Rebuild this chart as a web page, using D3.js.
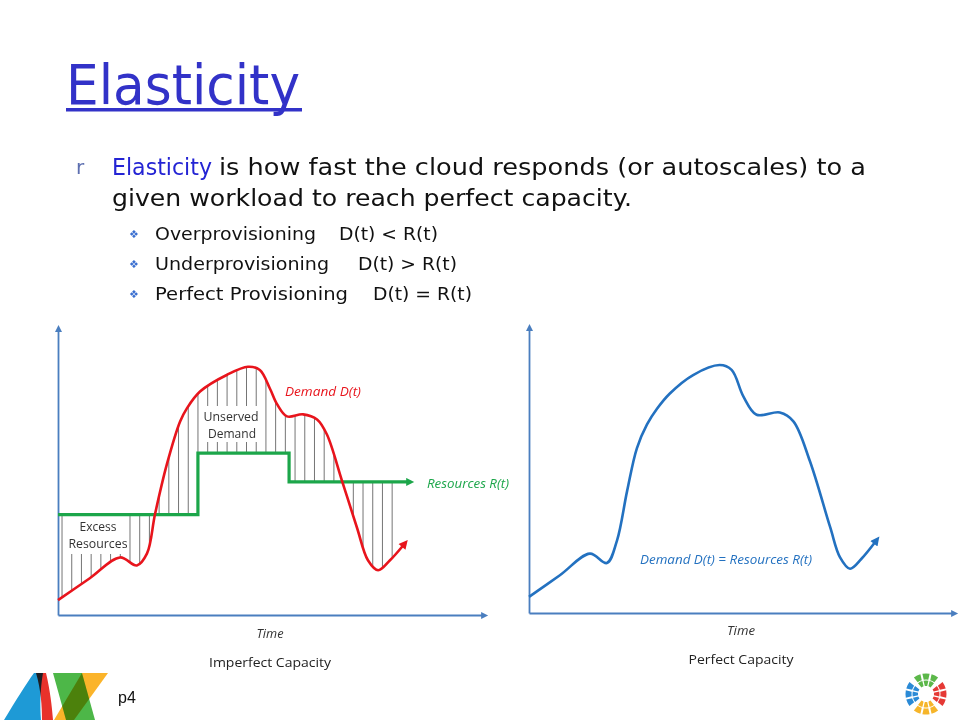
<!DOCTYPE html>
<html>
<head>
<meta charset="utf-8">
<script src="https://cdn.jsdelivr.net/npm/d3@7"></script>
<style>
  body { margin: 0; background: #fff; }
  svg { display: block; }
</style>
</head>
<body>
<div id="slide"></div>
<script>
// left panel, imperfect capacity: demand D(t), time and demand in 0..100 units
const leftTime   = [0, 7.5, 14.6, 18.6, 21, 22.9, 25.7, 28.8, 30.4, 33.5, 39.9, 44.8, 47.6, 50, 51.7, 54, 57.8, 61.1, 63.4, 67, 70.5, 73.1, 75.5, 78.3, 81.4];
const leftDemand = [5.2, 12.9, 20.2, 17.4, 21.6, 35.5, 53, 67.9, 72.5, 78.4, 84.3, 87.1, 86, 79.4, 73.9, 69.7, 70.4, 68.6, 63.4, 47, 30.7, 19.2, 15.7, 19.2, 24.4];
// resources R(t), a step line: the times it changes and its levels
const resTime  = [0, 33, 54.5, 82.5];
const resLevel = [35.2, 56.8, 46.7, 46.7];

// right panel, perfect capacity: D(t) = R(t)
const rightTime   = [0, 7.3, 14.4, 18.4, 20.8, 23.2, 25.5, 27.9, 30.3, 33.3, 38.8, 45.1, 47.9, 50.7, 53.8, 59.3, 62.5, 66.4, 71.2, 73.5, 75.9, 78.6, 81.8];
const rightDemand = [5.7, 13.3, 20.9, 17.6, 25.5, 43, 58, 66.4, 72, 77.3, 83.8, 87.3, 85.6, 76.2, 69.8, 70.6, 67.5, 53.5, 30.2, 19.7, 15.6, 19.1, 24.9];

// slide texts
const provNames = ["Overprovisioning", "Underprovisioning", "Perfect Provisioning"];
const provRels  = ["D(t) < R(t)", "D(t) > R(t)", "D(t) = R(t)"];

const W = 960, H = 720;
const blue = "#3232c8", axisCol = "#4a7ebf";
const red = "#e8141c", green = "#1ca64a", curveBlue = "#2371c0";
const slideFont = "'DejaVu Sans', sans-serif";
const chartFont = "'Open Sans', 'Liberation Sans', sans-serif";

const svg = d3.select("#slide").append("svg")
    .attr("width", W).attr("height", H)
    .attr("viewBox", [0, 0, W, H]);

svg.append("rect").attr("width", W).attr("height", H).attr("fill", "#fff");

const defs = svg.append("defs");
function arrow(id, col, len, wid) {
  defs.append("marker")
      .attr("id", id)
      .attr("markerUnits", "userSpaceOnUse")
      .attr("viewBox", "0 0 10 10")
      .attr("refX", 2).attr("refY", 5)
      .attr("markerWidth", len).attr("markerHeight", wid)
      .attr("orient", "auto")
    .append("path")
      .attr("d", "M0,0L10,5L0,10Z")
      .attr("fill", col);
}
arrow("arAxis", axisCol, 9, 7);
arrow("arRed", red, 10, 9);
arrow("arGreen", green, 10, 8);
arrow("arBlue", curveBlue, 10, 9);

// ---- title + bullets
function txt(x, y, s, size, col, len) {
  const t = svg.append("text")
      .attr("x", x).attr("y", y)
      .attr("font-family", slideFont)
      .attr("font-size", size)
      .attr("fill", col)
      .text(s);
  if (len) t.attr("textLength", len).attr("lengthAdjust", "spacingAndGlyphs");
  return t;
}

txt(66, 104, "Elasticity", 55, blue, 234);
svg.append("rect").attr("x", 66).attr("y", 108).attr("width", 236).attr("height", 3.5).attr("fill", blue);

txt(76, 174, "r", 20, "#5d6fb0");
txt(112, 175, "Elasticity", 23, "#2424d4", 100);
txt(219, 175, "is how fast the cloud responds (or autoscales) to a", 23, "#111", 647);
txt(112, 206, "given workload to reach perfect capacity.", 23, "#111", 520);

const subY = [240, 270, 300];
const subNameEnd = [316, 329, 348];
const relX = [339, 358, 373];
const relEnd = [438, 457, 472];
provNames.forEach((n, i) => {
  txt(129, subY[i] - 2, "\u2756", 11, "#3a6fd0");
  txt(155, subY[i], n, 18.5, "#111", subNameEnd[i] - 155);
  txt(relX[i], subY[i], provRels[i], 18.5, "#111", relEnd[i] - relX[i]);
});

// ---- panels
function panel(x0, x1, yb, yt) {
  const x = d3.scaleLinear().domain([0, 100]).range([x0, x1]);
  const y = d3.scaleLinear().domain([0, 100]).range([yb, yt]);
  const g = svg.append("g");
  return { x, y, g };
}

function axes(p) {
  const ax = p.g.append("g")
      .attr("transform", `translate(0,${p.y(0)})`)
      .call(d3.axisBottom(p.x).tickValues([]).tickSizeOuter(0));
  const ay = p.g.append("g")
      .attr("transform", `translate(${p.x(0)},0)`)
      .call(d3.axisLeft(p.y).tickValues([]).tickSizeOuter(0));
  [ax, ay].forEach(a => a.select(".domain")
      .attr("stroke", axisCol).attr("stroke-width", 1.8)
      .attr("marker-end", "url(#arAxis)"));
}

function label(p, s, cx, cy, size, col, italic, len) {
  const t = p.g.append("text")
      .attr("x", cx).attr("y", cy)
      .attr("text-anchor", "middle")
      .attr("font-family", chartFont)
      .attr("font-size", size)
      .attr("fill", col)
      .attr("font-style", italic ? "italic" : "normal")
      .text(s);
  if (len) t.attr("textLength", len).attr("lengthAdjust", "spacingAndGlyphs");
  return t;
}

function yOnPath(node, px) {
  let lo = 0, hi = node.getTotalLength();
  for (let i = 0; i < 30; i++) {
    const mid = (lo + hi) / 2;
    if (node.getPointAtLength(mid).x < px) lo = mid; else hi = mid;
  }
  return node.getPointAtLength((lo + hi) / 2).y;
}

function resAt(t) {
  let i = 0;
  while (i < resTime.length - 2 && t >= resTime[i + 1]) i++;
  return resLevel[i];
}

// left: imperfect capacity
const L = panel(58, 482, 615, 330);
axes(L);

const demandLine = d3.line()
    .x(d => L.x(d[0])).y(d => L.y(d[1]))
    .curve(d3.curveCatmullRom.alpha(0.5));
const leftPts = leftTime.map((t, i) => [t, leftDemand[i]]);

const hatchG = L.g.append("g");

const stepLine = d3.line()
    .x(d => L.x(d[0])).y(d => L.y(d[1]))
    .curve(d3.curveStepAfter);
L.g.append("path")
    .datum(resTime.map((t, i) => [t, resLevel[i]]))
    .attr("d", stepLine)
    .attr("fill", "none")
    .attr("stroke", green).attr("stroke-width", 3.2)
    .attr("marker-end", "url(#arGreen)");

const redPath = L.g.append("path")
    .datum(leftPts)
    .attr("d", demandLine)
    .attr("fill", "none")
    .attr("stroke", red).attr("stroke-width", 2.6)
    .attr("marker-end", "url(#arRed)");

// vertical hatch between demand and resources
d3.range(0.95, 81, 2.29).forEach(t => {
  const px = L.x(t);
  hatchG.append("line")
      .attr("x1", px).attr("x2", px)
      .attr("y1", L.y(resAt(t)))
      .attr("y2", yOnPath(redPath.node(), px))
      .attr("stroke", "#5c5c5c").attr("stroke-width", 0.85);
});

// label boxes hide the hatch behind the words
hatchG.append("rect").attr("x", 66).attr("y", 514).attr("width", 63).attr("height", 40).attr("fill", "#fff");
hatchG.append("rect").attr("x", 203).attr("y", 406).attr("width", 58).attr("height", 36).attr("fill", "#fff");
label(L, "Excess", 98, 531, 12.5, "#333", false, 37);
label(L, "Resources", 98, 548, 12.5, "#333", false, 59);
label(L, "Unserved", 231, 421, 12.5, "#333", false, 55);
label(L, "Demand", 232, 438, 12.5, "#333", false, 48);

label(L, "Demand D(t)", 323, 396, 13, red, true, 76);
label(L, "Resources R(t)", 468, 488, 13, green, true, 82);
label(L, "Time", 270, 638, 13, "#333", true, 27);
label(L, "Imperfect Capacity", 270, 667, 13.5, "#222", false, 122);

// right: perfect capacity
const R = panel(529, 952, 613, 329);
axes(R);
const rightLine = d3.line()
    .x(d => R.x(d[0])).y(d => R.y(d[1]))
    .curve(d3.curveCatmullRom.alpha(0.5));
R.g.append("path")
    .datum(rightTime.map((t, i) => [t, rightDemand[i]]))
    .attr("d", rightLine)
    .attr("fill", "none")
    .attr("stroke", curveBlue).attr("stroke-width", 2.6)
    .attr("marker-end", "url(#arBlue)");
label(R, "Demand D(t) = Resources R(t)", 726, 564, 12.5, curveBlue, true, 172);
label(R, "Time", 741, 635, 13, "#333", true, 28);
label(R, "Perfect Capacity", 741, 664, 13.5, "#222", false, 105);

// ---- footer: page number and logos
svg.append("text").attr("x", 118).attr("y", 703)
    .attr("font-family", "'Liberation Sans', sans-serif")
    .attr("font-size", 16).attr("fill", "#111").text("p4");

const logoL = svg.append("g").style("isolation", "isolate");
[
  ["#1e9ad6", "M4,720 C16,700 26,684 34,673 L43,673 C40,690 40,706 41,720 Z"],
  ["#e8322b", "M36,673 L46,673 C50,690 52,706 53,720 L42,720 C42,706 41,690 36,673 Z"],
  ["#4db748", "M53,673 L82,673 L95,720 L66,720 Z"],
  ["#fbb42a", "M82,673 L108,673 L74,720 L54,720 Z"]
].forEach(d => logoL.append("path").attr("d", d[1]).attr("fill", d[0])
    .style("mix-blend-mode", "multiply"));

const logoR = svg.append("g").attr("transform", "translate(926,694)");
const quarter = [["#5cb84a", 0], ["#e53935", 90], ["#f6b52a", 180], ["#2a8ad6", 270]];
const ring = d3.arc().padAngle(0.08);
quarter.forEach(q => {
  [[8, 13.5], [14.5, 20.5]].forEach(r => {
    d3.range(3).forEach(k => {
      const a0 = (q[1] - 39 + k * 26) * Math.PI / 180;
      logoR.append("path")
          .attr("d", ring({ innerRadius: r[0], outerRadius: r[1], startAngle: a0, endAngle: a0 + 26 * Math.PI / 180 }))
          .attr("fill", q[0]);
    });
  });
});
</script>
</body>
</html>
